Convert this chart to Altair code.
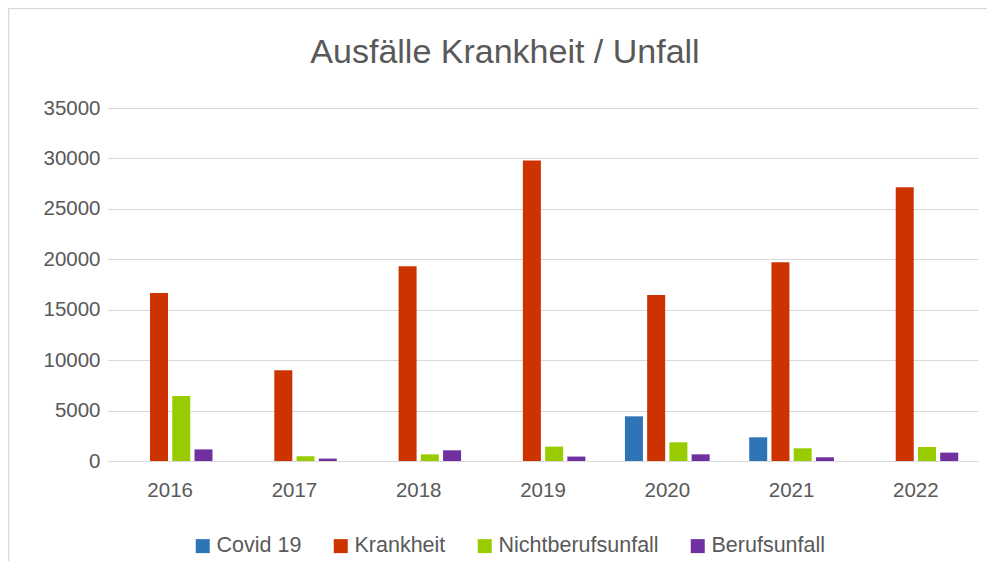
import altair as alt
import pandas as pd

years = ["2016", "2017", "2018", "2019", "2020", "2021", "2022"]
series = ["Covid 19", "Krankheit", "Nichtberufsunfall", "Berufsunfall"]
covid = [0, 0, 0, 0, 4430, 2350, 0]
krankheit = [16650, 9000, 19300, 29800, 16450, 19700, 27150]
nichtberuf = [6450, 470, 660, 1430, 1850, 1260, 1390]
beruf = [1150, 240, 1060, 440, 660, 370, 830]
colors = ["#2E75B6", "#CC3300", "#99CC00", "#7030A0"]

rows = []
for s, vals in zip(series, [covid, krankheit, nichtberuf, beruf]):
    for y, v in zip(years, vals):
        rows.append({"Jahr": y, "Serie": s, "Wert": v})
df = pd.DataFrame(rows)

FONT = "Liberation Sans"
GREY = "#595959"

frame = alt.Chart(pd.DataFrame({"a": [0]})).mark_rect(
    fill="white", fillOpacity=0, stroke="#D9D9D9", strokeWidth=1.5
).encode(
    x=alt.value(-99.5), x2=alt.value(900), y=alt.value(-99.5), y2=alt.value(500)
)

bars = alt.Chart(df).mark_bar(size=18).encode(
    x=alt.X("Jahr:N", sort=years, title=None,
            scale=alt.Scale(paddingInner=0.32, paddingOuter=0.16),
            axis=alt.Axis(labelAngle=0, labelFontSize=20.5, labelColor=GREY, labelFont=FONT,
                          domainColor="#D9D9D9", ticks=False, labelPadding=19)),
    xOffset=alt.XOffset("Serie:N", sort=series, scale=alt.Scale(domain=series, paddingInner=0.2)),
    y=alt.Y("Wert:Q", title=None,
            scale=alt.Scale(domain=[0, 35000]),
            axis=alt.Axis(values=list(range(0, 35001, 5000)), format="d", labelFontSize=20.5,
                          labelColor=GREY, labelFont=FONT, domain=False, ticks=False,
                          gridColor="#D9D9D9", gridWidth=1.2, labelPadding=8)),
    color=alt.Color("Serie:N", sort=series,
                    scale=alt.Scale(domain=series, range=colors),
                    legend=alt.Legend(title=None, orient="none", direction="horizontal",
                                      legendX=84, legendY=427, symbolType="square",
                                      symbolSize=196, symbolStrokeWidth=0,
                                      labelFontSize=21.5, labelColor=GREY, labelFont=FONT,
                                      labelLimit=400, columnPadding=28, symbolOffset=0,
                                      labelOffset=3)),
)

chart = alt.layer(frame, bars).properties(
    width=870, height=353,
    autosize=alt.AutoSizeParams(type="none"),
    padding={"left": 100, "top": 100, "right": 9, "bottom": 100},
    title=alt.TitleParams("Ausfälle Krankheit / Unfall", fontSize=34, font=FONT, color=GREY,
                          fontWeight="normal", anchor="middle", frame="group",
                          dx=-38, offset=-62),
).configure_view(stroke=None)

chart.save("out.html", embed_options={"renderer": "svg", "actions": False})
